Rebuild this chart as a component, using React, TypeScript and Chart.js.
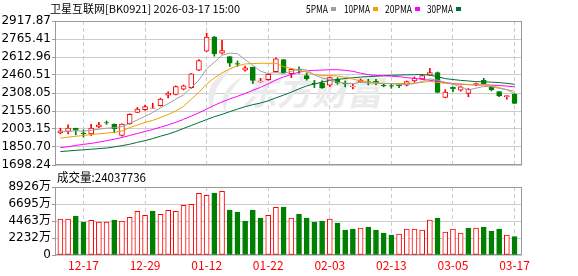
import React, { useEffect, useRef } from 'react';
import { Chart, registerables } from 'chart.js';

Chart.register(...registerables);

// ---------------- data ----------------
const titleText = '卫星互联网[BK0921] 2026-03-17 15:00';
const volumeTitle = '成交量:24037736';
const maLabels = ['5PMA', '10PMA', '20PMA', '30PMA'];

const dates = [
  '12-12', '12-15', '12-16', '12-17', '12-18', '12-19', '12-22', '12-23', '12-24', '12-25',
  '12-26', '12-29', '12-30', '12-31', '01-05', '01-06', '01-07', '01-08', '01-09', '01-12',
  '01-13', '01-14', '01-15', '01-16', '01-19', '01-20', '01-21', '01-22', '01-23', '01-26',
  '01-27', '01-28', '01-29', '01-30', '02-02', '02-03', '02-04', '02-05', '02-06', '02-09',
  '02-10', '02-11', '02-12', '02-13', '02-24', '02-25', '02-26', '02-27', '03-02', '03-03',
  '03-04', '03-05', '03-06', '03-09', '03-10', '03-11', '03-12', '03-13', '03-16', '03-17',
];
const dateTickLabels = ['12-17', '12-29', '01-12', '01-22', '02-03', '02-13', '03-05', '03-17'];

const opens = [
  1970, 1982, 2010, 1968, 1962, 2021, 2057, 2043, 1948, 2049,
  2144, 2166, 2178, 2200, 2290, 2295, 2340, 2354, 2502, 2662,
  2782, 2645, 2617, 2558, 2502, 2527, 2401, 2421, 2488, 2592,
  2471, 2510, 2455, 2390, 2390, 2374, 2427, 2390, 2360, 2404,
  2404, 2407, 2374, 2371, 2376, 2374, 2410, 2427, 2460, 2480,
  2270, 2357, 2332, 2304, 2376, 2415, 2360, 2320, 2276, 2298,
];
const highs = [
  2010, 2038, 2010, 1996, 2043, 2060, 2071, 2046, 2046, 2133,
  2186, 2206, 2222, 2264, 2318, 2368, 2376, 2474, 2591, 2815,
  2788, 2754, 2617, 2580, 2536, 2527, 2432, 2471, 2606, 2592,
  2513, 2530, 2478, 2415, 2412, 2444, 2438, 2410, 2382, 2427,
  2424, 2424, 2382, 2388, 2390, 2410, 2444, 2460, 2516, 2486,
  2337, 2360, 2368, 2346, 2393, 2432, 2363, 2320, 2287, 2304,
];
const lows = [
  1962, 1962, 1954, 1934, 1948, 2015, 2043, 1971, 1943, 2043,
  2141, 2161, 2176, 2197, 2267, 2292, 2334, 2348, 2497, 2659,
  2620, 2639, 2533, 2533, 2494, 2388, 2399, 2415, 2485, 2474,
  2438, 2474, 2416, 2354, 2346, 2362, 2382, 2360, 2343, 2398,
  2376, 2376, 2360, 2348, 2354, 2368, 2399, 2421, 2457, 2310,
  2267, 2320, 2323, 2276, 2371, 2380, 2326, 2278, 2256, 2218,
];
const closes = [
  1987, 2010, 1993, 1962, 2010, 2038, 2055, 2004, 2044, 2127,
  2172, 2192, 2180, 2256, 2306, 2362, 2368, 2471, 2583, 2782,
  2642, 2667, 2561, 2552, 2522, 2415, 2407, 2466, 2597, 2480,
  2508, 2502, 2427, 2385, 2351, 2438, 2396, 2385, 2365, 2415,
  2399, 2393, 2368, 2366, 2371, 2404, 2432, 2455, 2480, 2312,
  2316, 2343, 2360, 2340, 2388, 2385, 2337, 2284, 2287, 2220,
];

const ma5 = [
  1980, 1984, 1988, 1985, 1992, 2002, 2010, 2014, 2024, 2050,
  2080, 2110, 2143, 2182, 2218, 2256, 2293, 2352, 2418, 2513,
  2568, 2628, 2646, 2641, 2590, 2544, 2492, 2473, 2481, 2473,
  2492, 2511, 2503, 2460, 2435, 2421, 2399, 2391, 2387, 2400,
  2392, 2391, 2388, 2388, 2379, 2380, 2388, 2406, 2428, 2417,
  2399, 2381, 2362, 2334, 2349, 2363, 2362, 2347, 2336, 2302,
];
const ma10 = [
  1926, 1934, 1942, 1948, 1956, 1962, 1968, 1976, 1986, 2015,
  2036, 2060, 2076, 2100, 2126, 2157, 2195, 2255, 2314, 2384,
  2436, 2478, 2513, 2538, 2554, 2557, 2560, 2560, 2560, 2531,
  2516, 2502, 2485, 2465, 2455, 2455, 2453, 2440, 2426, 2410,
  2403, 2395, 2390, 2388, 2389, 2388, 2392, 2398, 2407, 2398,
  2390, 2385, 2384, 2380, 2382, 2380, 2370, 2354, 2336, 2324,
];
const ma20 = [
  1845, 1853, 1864, 1873, 1881, 1892, 1904, 1917, 1931, 1948,
  1965, 1982, 1999, 2018, 2038, 2060, 2085, 2112, 2140, 2172,
  2204, 2232, 2258, 2280, 2304, 2330, 2356, 2386, 2418, 2444,
  2465, 2484, 2495, 2500, 2502, 2505, 2505, 2500, 2492, 2476,
  2464, 2457, 2454, 2451, 2446, 2438, 2432, 2424, 2416, 2405,
  2396, 2389, 2382, 2379, 2376, 2376, 2375, 2372, 2367, 2360,
];
const ma30 = [
  1812, 1817, 1822, 1827, 1832, 1837, 1842, 1852, 1862, 1874,
  1890, 1905, 1922, 1942, 1960, 1982, 2008, 2033, 2058, 2083,
  2107, 2127, 2150, 2172, 2192, 2209, 2223, 2242, 2267, 2290,
  2315, 2343, 2368, 2385, 2400, 2415, 2423, 2430, 2437, 2443,
  2447, 2450, 2454, 2458, 2460, 2462, 2463, 2464, 2460, 2445,
  2430, 2422, 2415, 2410, 2404, 2403, 2400, 2396, 2390, 2382,
];

// volume in 万
const volumes = [
  4724, 4724, 5118, 4331, 4549, 4331, 4331, 4593, 4462, 4943,
  5730, 5206, 5774, 5337, 5862, 5730, 6518, 6649, 8093, 7830,
  8137, 8355, 5906, 5643, 4462, 5906, 4856, 5206, 6256, 6299,
  4856, 5381, 4856, 4331, 4462, 4724, 4200, 3281, 3412, 3543,
  3675, 3281, 2887, 2625, 2756, 3412, 3412, 3281, 4593, 4856,
  3018, 3412, 2887, 3543, 3543, 3675, 3150, 3412, 2625, 2404,
];
// 1 = up day (red hollow), 0 = down day (green)
const volumeUp = [
  1, 1, 0, 0, 1, 1, 1, 0, 1, 1,
  1, 1, 0, 1, 1, 1, 1, 1, 1, 1,
  0, 1, 0, 0, 0, 0, 0, 1, 1, 0,
  1, 0, 0, 0, 0, 1, 0, 0, 0, 1,
  0, 0, 0, 0, 1, 1, 1, 1, 1, 0,
  1, 1, 1, 0, 1, 0, 0, 0, 1, 0,
];

const priceTickLabels = ['1698.24', '1850.70', '2003.15', '2155.60', '2308.05', '2460.51', '2612.96', '2765.41', '2917.87'];
const volumeTickValues = [0, 2231.5, 4463, 6694.5, 8926];
const volumeTickLabels = ['0', '2232万', '4463万', '6695万', '8926万'];

// ---------------- styles ----------------
const RED = '#ff0000';
const GREEN = '#008000';
const MA_COLORS = ['#a0a0a0', '#f0a000', '#ff00ff', '#006f35'];
const GRID = '#cccccc';
const FRAME = '#9a9a9a';
const AXIS_FONT = '"DejaVu Sans", "Noto Sans CJK SC", sans-serif';
const CJK_FONT = '"Noto Sans CJK SC", sans-serif';
const X_MIN = -0.7;
const X_MAX = 59.97;

const priceTickValues = priceTickLabels.map(Number);
const dateTickIdx = dateTickLabels.map((l) => dates.indexOf(l));

function fitText(ctx: CanvasRenderingContext2D, text: string, x: number, y: number, width: number, font: string, color: string) {
  ctx.save();
  ctx.font = font;
  ctx.fillStyle = color;
  ctx.textAlign = 'left';
  ctx.textBaseline = 'middle';
  const w = ctx.measureText(text).width || 1;
  ctx.translate(x, y);
  ctx.scale(width / w, 1);
  ctx.fillText(text, 0, 0);
  ctx.restore();
}

function frame(chart: any) {
  const { ctx, chartArea: a } = chart;
  ctx.save();
  ctx.strokeStyle = FRAME;
  ctx.lineWidth = 1;
  ctx.strokeRect(Math.round(a.left) + 0.5, Math.round(a.top) + 0.5, Math.round(a.right) - Math.round(a.left) - 1, Math.round(a.bottom) - Math.round(a.top) - 1);
  ctx.restore();
}

function labelFor(labels: string[], values: number[], v: any) {
  const n = Number(v);
  let best = 0;
  for (let i = 1; i < values.length; i++) {
    if (Math.abs(values[i] - n) < Math.abs(values[best] - n)) best = i;
  }
  return labels[best];
}

const pricePlugin = {
  id: 'priceDecor',
  beforeDatasetsDraw(chart: any) {
    const { ctx } = chart;
    ctx.save();
    ctx.fillStyle = '#ebebeb';
    ctx.beginPath();
    ctx.moveTo(236, 66);
    ctx.quadraticCurveTo(196, 84, 214, 114);
    ctx.quadraticCurveTo(208, 88, 236, 66);
    ctx.fill();
    ctx.beginPath();
    ctx.moveTo(244, 76);
    ctx.quadraticCurveTo(214, 92, 226, 114);
    ctx.quadraticCurveTo(224, 94, 244, 76);
    ctx.fill();
    ctx.font = 'italic bold 35px ' + CJK_FONT;
    ctx.textBaseline = 'middle';
    ctx.textAlign = 'left';
    ctx.fillText('东方财富', 242, 92);
    ctx.restore();
    frame(chart);
  },
  afterDraw(chart: any) {
    const { ctx } = chart;
    fitText(ctx, titleText, 50, 8.5, 190, '11px ' + CJK_FONT, '#000');
    const xs = [306, 344, 385, 427];
    const ws = [22, 26, 27, 26];
    maLabels.forEach((l, k) => {
      fitText(ctx, l, xs[k], 8.8, ws[k], '11px ' + CJK_FONT, '#000');
      ctx.fillStyle = MA_COLORS[k];
      ctx.fillRect(xs[k] + ws[k] + 3, 7, 5, 4);
    });
  },
};

const volumePlugin = {
  id: 'volDecor',
  beforeDatasetsDraw(chart: any) {
    frame(chart);
  },
  afterDraw(chart: any) {
    fitText(chart.ctx, volumeTitle, 57, 7.3, 89, '12px ' + CJK_FONT, '#000');
  },
};

function xScale(showLabels: boolean, height: number) {
  return {
    type: 'linear',
    min: X_MIN,
    max: X_MAX,
    offset: false,
    afterBuildTicks: (s: any) => {
      s.ticks = dateTickIdx.map((v) => ({ value: v }));
    },
    afterFit: (s: any) => {
      s.height = height;
    },
    ticks: {
      display: showLabels,
      autoSkip: false,
      maxRotation: 0,
      padding: 3,
      color: RED,
      font: { family: CJK_FONT, size: 12 },
      callback: (v: any) => dates[Math.round(Number(v))],
    },
    grid: { color: GRID, offset: false, drawTicks: false },
    border: { display: false, dash: [4, 3] },
  };
}

function yScale(values: number[], labels: string[]) {
  return {
    type: 'linear',
    min: values[0],
    max: values[values.length - 1],
    afterBuildTicks: (s: any) => {
      s.ticks = values.map((v) => ({ value: v }));
    },
    afterFit: (s: any) => {
      s.width = 55;
    },
    ticks: {
      autoSkip: false,
      padding: 1,
      color: '#000',
      font: { family: AXIS_FONT, size: 12 },
      callback: (v: any) => labelFor(labels, values, v),
    },
    grid: { color: GRID, tickColor: FRAME, tickLength: 3 },
    border: { display: true, color: FRAME },
  };
}

export default function App() {
  const priceRef = useRef<HTMLCanvasElement>(null);
  const volRef = useRef<HTMLCanvasElement>(null);

  useEffect(() => {
    const up = closes.map((c, i) => c >= opens[i]);
    const maSeries = [ma5, ma10, ma20, ma30];

    const price = new Chart(priceRef.current as HTMLCanvasElement, {
      type: 'bar',
      data: {
        datasets: [
          ...maSeries.map((arr, k) => ({
            type: 'line',
            label: maLabels[k],
            data: arr.map((v, i) => ({ x: i, y: v })),
            borderColor: MA_COLORS[k],
            borderWidth: 1,
            pointRadius: 0,
            tension: 0,
          })),
          {
            type: 'bar',
            label: 'K',
            data: opens.map((o, i) => ({ x: i, y: [o, closes[i]] })),
            backgroundColor: up.map((u) => (u ? '#ffffff' : GREEN)),
            borderColor: up.map((u) => (u ? RED : GREEN)),
            borderWidth: 1,
            borderSkipped: false,
            barThickness: 5,
            grouped: false,
          },
          {
            type: 'bar',
            label: 'HL',
            data: lows.map((l, i) => ({ x: i, y: [l, highs[i]] })),
            backgroundColor: up.map((u) => (u ? RED : GREEN)),
            borderWidth: 0,
            barThickness: 1,
            grouped: false,
          },
        ] as any,
      },
      options: {
        animation: false,
        responsive: false,
        maintainAspectRatio: false,
        events: [],
        layout: { padding: { left: 0, right: 56, top: 21, bottom: 0 } },
        plugins: { legend: { display: false }, tooltip: { enabled: false }, title: { display: false } },
        scales: {
          x: xScale(false, 12) as any,
          y: yScale(priceTickValues, priceTickLabels) as any,
        },
      },
      plugins: [pricePlugin],
    });

    const volume = new Chart(volRef.current as HTMLCanvasElement, {
      type: 'bar',
      data: {
        datasets: [
          {
            label: 'VOL',
            data: volumes.map((v, i) => ({ x: i, y: v })),
            backgroundColor: volumeUp.map((u) => (u ? '#ffffff' : GREEN)),
            borderColor: volumeUp.map((u) => (u ? RED : GREEN)),
            borderWidth: 1,
            borderSkipped: false,
            barThickness: 5,
            grouped: false,
          },
        ] as any,
      },
      options: {
        animation: false,
        responsive: false,
        maintainAspectRatio: false,
        events: [],
        layout: { padding: { left: 0, right: 56, top: 17, bottom: 0 } },
        plugins: { legend: { display: false }, tooltip: { enabled: false }, title: { display: false } },
        scales: {
          x: xScale(true, 21) as any,
          y: yScale(volumeTickValues, volumeTickLabels) as any,
        },
      },
      plugins: [volumePlugin],
    });

    return () => {
      price.destroy();
      volume.destroy();
    };
  }, []);

  return (
    <div style={{ position: 'fixed', left: 0, top: 0, width: 578, height: 276, background: '#ffffff', overflow: 'hidden' }}>
      <canvas ref={priceRef} width={578} height={177} style={{ position: 'absolute', left: 0, top: 0, width: 578, height: 177 }} />
      <canvas ref={volRef} width={578} height={106} style={{ position: 'absolute', left: 0, top: 170, width: 578, height: 106 }} />
    </div>
  );
}
